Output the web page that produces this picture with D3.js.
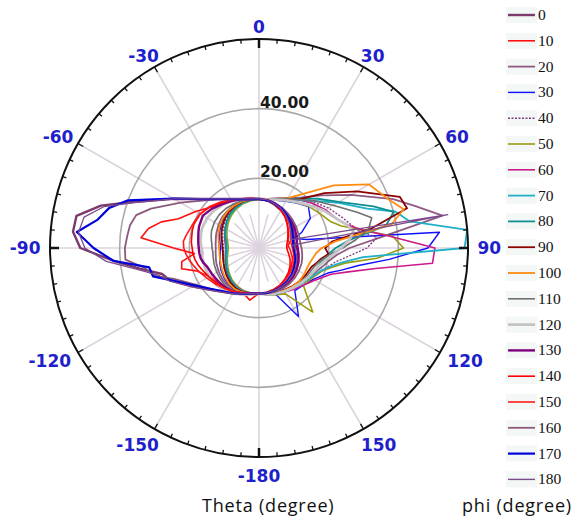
<!DOCTYPE html>
<html>
<head>
<meta charset="utf-8">
<script src="https://cdn.jsdelivr.net/npm/d3@7"></script>
<style>
  body { margin: 0; background: #fff; }
  svg { display: block; }
</style>
</head>
<body>
<svg id="chart" width="573" height="519"></svg>
<script>
// theta (degree) grid shared by all phi cuts
const theta = [-180,-170,-160,-150,-140,-130,-120,-110,-105,-100,-95,-90,-85,-80,-75,-70,-60,-50,-40,-30,-20,-10,0,
  10,20,30,40,50,60,70,75,80,85,90,95,100,105,110,120,130,140,150,160,170,180]

// one radius list per phi cut
const phi0 = [13.1,13.4,14.1,15.1,16.4,18.6,22.0,27.2,28.8,34.5,42.0,51.3,53.6,53.2,47.0,38.6,28.3,21.9,18.4,16.3,15.0,14.3,14.1,
  13.9,13.2,12.6,12.3,11.8,11.2,10.6,10.4,10.2,10.5,10.8,11.2,11.5,11.7,12.0,12.4,12.8,13.0,13.2,13.3,13.2,13.1]
const phi10 = [13.0,15.2,13.6,14.2,14.8,15.4,16.3,19.2,23.0,22.5,18.6,24.5,34.0,32.2,29.0,24.6,21.0,18.2,16.6,15.5,14.8,14.2,14.0,
  13.8,13.3,12.5,11.7,10.6,9.8,9.1,8.6,8.9,8.4,8.7,9.1,9.4,9.9,10.2,10.7,11.2,11.7,12.3,12.7,13.1,13.0]
const phi20 = [13.1,13.3,13.6,13.9,14.0,13.8,13.4,13.0,12.8,12.6,12.5,12.4,12.5,12.6,12.8,13.0,13.4,13.8,14.0,14.2,14.3,14.2,14.1,
  14.3,15.2,16.6,19.0,23.5,30.5,41.0,46.5,53.5,35.0,26.0,22.5,20.5,19.3,18.2,16.8,15.8,15.0,14.4,13.9,13.5,13.2]
const phi30 = [13.2,13.4,13.7,13.8,13.6,13.2,12.6,12.0,11.6,11.3,11.1,11.0,11.2,11.4,11.7,12.1,12.7,13.3,13.8,14.1,14.3,14.2,14.0,
  14.0,14.6,15.5,16.8,18.5,17.0,13.0,10.5,14.0,52.0,48.5,37.5,29.0,24.5,21.0,18.0,16.6,16.0,22.7,14.2,13.6,13.2]
const phi40 = [13.0,13.2,13.3,13.1,12.6,12.0,11.4,10.9,10.6,10.4,10.2,10.2,10.3,10.5,10.8,11.1,11.8,12.5,13.2,13.7,14.0,14.1,14.0,
  14.2,15.0,16.2,18.0,20.5,23.0,25.5,27.0,29.0,34.0,31.0,26.0,22.5,20.5,19.0,17.2,16.0,15.2,14.6,14.0,13.5,13.0]
const phi50 = [13.0,13.1,13.0,12.6,12.0,11.2,10.4,9.7,9.4,9.1,8.9,8.8,8.9,9.1,9.4,9.8,10.6,11.5,12.3,13.0,13.5,13.8,13.9,
  14.1,14.8,15.8,17.0,18.6,20.0,22.0,24.5,30.0,38.5,41.5,34.0,25.0,21.5,19.3,17.4,16.6,24.0,15.2,14.3,13.6,13.1]
const phi60 = [13.0,13.2,13.2,12.9,12.3,11.6,10.9,10.3,10.0,9.8,9.6,9.6,9.7,9.9,10.2,10.5,11.2,12.0,12.8,13.4,13.8,14.0,14.0,
  14.2,15.0,16.2,18.0,20.0,22.0,24.0,26.0,30.0,38.0,50.5,50.0,34.0,26.5,22.0,18.5,16.6,15.5,14.6,14.0,13.5,13.0]
const phi70 = [13.0,13.2,13.3,13.0,12.3,11.5,10.7,10.0,9.7,9.4,9.2,9.2,9.3,9.5,9.8,10.2,11.0,11.9,12.7,13.3,13.7,14.0,14.1,
  14.2,14.9,16.2,18.0,21.0,26.0,33.0,40.5,44.0,60.0,59.0,30.0,24.0,21.0,19.0,17.0,16.0,15.0,14.5,14.0,13.5,13.0]
const phi80 = [13.0,13.2,13.4,13.2,12.5,11.7,10.9,10.2,9.9,9.7,9.5,9.5,9.5,9.7,10.0,10.4,11.2,12.1,12.9,13.5,13.9,14.1,14.2,
  14.2,15.0,16.3,18.5,22.0,26.5,35.0,40.0,37.0,26.0,22.0,20.0,19.0,18.0,17.5,16.5,15.5,15.0,14.5,14.0,13.5,13.0]
const phi90 = [13.0,13.3,13.5,13.4,12.9,12.2,11.5,10.9,10.7,10.5,10.4,10.5,10.6,10.8,11.1,11.5,12.2,12.9,13.5,13.9,14.1,14.2,14.2,
  14.2,14.9,16.0,18.3,24.5,32.5,43.0,44.0,33.0,21.0,19.0,20.0,18.0,17.0,16.0,15.5,15.0,14.5,14.0,13.5,13.2,13.0]
const phi100 = [13.0,13.3,13.6,13.7,13.4,12.9,12.3,11.8,11.6,11.5,11.4,11.5,11.6,11.8,12.1,12.4,13.0,13.5,13.9,14.1,14.2,14.2,14.1,
  14.2,15.0,16.5,20.5,28.0,36.5,40.0,43.0,38.5,22.0,18.0,16.5,15.8,15.3,15.0,15.0,15.0,14.6,14.2,13.8,13.4,13.0]
const phi110 = [13.1,13.4,13.9,14.3,14.5,14.3,14.0,13.7,13.5,13.4,13.3,13.5,13.6,13.9,14.2,14.5,14.8,14.9,14.8,14.6,14.4,14.3,14.1,
  14.2,15.0,16.3,18.2,21.0,24.5,30.0,33.5,32.0,28.0,24.0,20.5,18.5,17.3,16.6,16.0,15.5,15.0,14.5,14.0,13.5,13.1]
const phi120 = [13.1,13.5,14.2,15.0,15.8,16.2,16.4,16.5,16.4,16.6,16.3,16.5,16.8,17.0,17.2,17.3,17.2,16.8,16.2,15.6,15.0,14.5,14.2,
  14.2,14.8,15.8,17.2,19.0,21.5,24.0,26.0,27.5,26.0,23.5,21.5,19.5,18.3,17.5,16.5,15.7,15.0,14.4,13.9,13.5,13.1]
const phi130 = [13.0,13.3,13.9,14.5,14.9,15.1,15.4,15.8,16.5,17.0,17.2,17.3,17.5,17.7,18.0,18.3,18.6,17.6,16.4,15.6,14.9,14.4,14.1,
  13.9,13.6,13.2,12.8,12.3,11.8,11.3,11.2,11.0,11.0,11.1,11.3,11.5,11.7,12.0,12.4,12.7,12.9,13.1,13.2,13.1,13.0]
const phi140 = [13.0,13.3,13.8,14.5,15.2,15.8,16.6,17.6,18.2,18.7,19.0,19.2,19.5,19.6,19.8,19.9,19.5,18.4,17.0,15.9,15.0,14.4,14.0,
  13.8,13.4,12.6,11.6,10.6,9.6,8.8,8.5,8.2,8.0,8.0,8.2,8.6,9.0,9.5,10.3,11.0,11.6,12.2,12.6,12.9,13.0]
const phi150 = [13.0,13.2,13.7,14.4,15.2,16.2,17.3,18.7,19.5,20.3,21.0,21.6,21.8,21.2,20.6,20.2,19.6,18.5,17.2,16.0,15.0,14.4,14.0,
  14.1,13.6,12.9,12.1,11.2,10.4,9.8,9.5,9.3,9.4,9.6,9.8,10.1,10.4,10.7,11.1,11.5,11.9,12.3,12.7,13.0,13.0]
const phi160 = [13.1,13.4,14.0,15.0,16.3,18.3,21.0,26.0,31.0,33.2,38.5,38.5,38.0,37.6,36.5,33.0,26.0,21.2,18.2,16.2,14.9,14.2,14.0,
  13.8,13.5,13.2,12.9,12.6,12.3,12.0,12.0,11.9,12.0,12.2,12.4,12.6,12.8,13.0,13.2,13.4,13.5,13.5,13.4,13.2,13.1]
const phi170 = [13.0,13.3,14.0,15.0,16.2,18.2,21.5,27.0,31.5,32.0,42.0,47.5,52.5,47.0,44.5,40.0,28.3,21.8,18.3,16.2,14.9,14.2,14.0,
  13.9,13.5,13.0,12.4,11.6,10.9,10.3,10.1,9.9,9.9,10.0,10.2,10.5,10.8,11.1,11.6,12.1,12.5,12.8,13.0,13.1,13.0]
const phi180 = [13.0,13.3,14.0,15.1,16.5,18.8,22.3,27.5,30.0,35.5,44.0,50.0,52.0,51.0,46.0,38.2,28.2,21.9,18.4,16.3,15.0,14.3,14.1,
  14.0,13.5,12.9,12.1,11.3,10.5,9.8,9.4,55.0,10.0,10.3,10.6,10.9,11.2,11.5,12.0,12.4,12.7,12.9,13.0,13.0,13.0]

const phiLabels = ['0','10','20','30','40','50','60','70','80','90','100','110','120','130','140','150','160','170','180']
const angleTicks = [0, 30, 60, 90, 120, 150, -180, -150, -120, -90, -60, -30]
const ringValues = [20, 40]
const ringLabels = ['20.00', '40.00']

const radii = [phi0, phi10, phi20, phi30, phi40, phi50, phi60, phi70, phi80, phi90,
  phi100, phi110, phi120, phi130, phi140, phi150, phi160, phi170, phi180]

// look of each cut
const colors = ['#7b3a6b','#ff1010','#8e5a82','#1010ff','#7b3a7b','#9a9a10','#cc1a8a','#20b0c8','#109090','#8b0000',
  '#ff8c10','#707070','#c4c4c4','#800080','#ff0000','#ff1a1a','#8b5a7a','#0000dd','#7b4a8b']
const widths = [2.4,1.6,1.8,1.4,1.3,1.6,1.6,1.8,1.8,1.8,1.8,1.6,2.8,2.4,1.6,1.6,1.8,2.2,1.3]

const cx = 259, cy = 248, R = 209

const svg = d3.select('#chart')
const g = svg.append('g').attr('transform', `translate(${cx},${cy})`)

const r = d3.scaleLinear().domain([0, 60]).range([0, R])
const rad = d => d * Math.PI / 180

// spokes
const spokes = d3.range(-180, 180, 15)
g.selectAll('.spoke').data(spokes).enter().append('line')
  .attr('x1', 0).attr('y1', 0)
  .attr('x2', d => Math.sin(rad(d)) * (d % 30 === 0 ? R : r(10)))
  .attr('y2', d => -Math.cos(rad(d)) * (d % 30 === 0 ? R : r(10)))
  .attr('stroke', '#ddd3df').attr('stroke-width', 1.6)

// rings
g.selectAll('.ring').data(ringValues).enter().append('circle')
  .attr('r', d => r(d)).attr('fill', 'none')
  .attr('stroke', '#a9a9a9').attr('stroke-width', 1.6)

// the cuts
const line = d3.lineRadial()
  .angle(d => rad(d[0]))
  .radius(d => r(d[1]))

radii.forEach((rs, i) => {
  const pts = theta.map((t, k) => [t, rs[k]])
  g.append('path')
    .attr('d', line(pts))
    .attr('fill', 'none')
    .attr('stroke', colors[i])
    .attr('stroke-width', widths[i])
    .attr('stroke-linejoin', 'round')
    .attr('stroke-dasharray', i === 4 ? '2,1.5' : null)
})

// outer circle + ticks
g.append('circle').attr('r', R).attr('fill', 'none').attr('stroke', '#111').attr('stroke-width', 2)
const tickLen = d => d % 90 === 0 ? 9 : d % 30 === 0 ? 6 : 4
const ticks = d3.range(-180, 180, 5)
g.selectAll('.tick').data(ticks).enter().append('line')
  .attr('x1', d => Math.sin(rad(d)) * R)
  .attr('y1', d => -Math.cos(rad(d)) * R)
  .attr('x2', d => Math.sin(rad(d)) * (R - tickLen(d)))
  .attr('y2', d => -Math.cos(rad(d)) * (R - tickLen(d)))
  .attr('stroke', '#111')
  .attr('stroke-width', d => d % 90 === 0 ? 2.5 : 1.3)

// angle labels, pushed out by half their box
g.selectAll('.alab').data(angleTicks).enter().append('text')
  .attr('text-anchor', 'middle')
  .attr('dominant-baseline', 'central')
  .attr('font-family', 'DejaVu Sans')
  .attr('font-weight', 'bold')
  .attr('font-size', 17)
  .attr('fill', '#1f1fcc')
  .text(d => d)
  .each(function (d) {
    const w = this.getComputedTextLength() / 2
    const s = Math.sin(rad(d)), c = Math.cos(rad(d))
    const rr = 218.5 - 3.5 * c
    d3.select(this)
      .attr('x', s * rr + s * w * Math.abs(s) / Math.abs(s || 1) * (s ? 1 : 0))
      .attr('y', -c * rr - c * 6 * Math.abs(c) / Math.abs(c || 1))
  })

// ring labels
g.selectAll('.rlab').data(ringValues).enter().append('text')
  .attr('x', 1)
  .attr('y', d => -r(d) - 1)
  .attr('font-family', 'DejaVu Sans')
  .attr('font-weight', 'bold')
  .attr('font-size', 15.5)
  .attr('fill', '#1a1a1a')
  .text((d, i) => ringLabels[i])

// legend
const leg = svg.append('g')
const rowY = i => 15 + i * 25.8
phiLabels.forEach((lab, i) => {
  leg.append('rect')
    .attr('x', 506).attr('y', rowY(i) - 8).attr('width', 31).attr('height', 16)
    .attr('fill', '#f3f7f5')
  leg.append('line')
    .attr('x1', 508).attr('x2', 535)
    .attr('y1', rowY(i)).attr('y2', rowY(i))
    .attr('stroke', colors[i]).attr('stroke-width', Math.max(1.4, widths[i]))
    .attr('stroke-dasharray', i === 4 ? '2,1.5' : null)
  leg.append('text')
    .attr('x', 538).attr('y', rowY(i) + 5)
    .attr('font-family', "'Liberation Serif', 'DejaVu Serif', serif")
    .attr('font-size', 15.5)
    .attr('fill', '#111')
    .text(lab)
})

// axis titles
svg.append('text').attr('x', 202).attr('y', 512)
  .attr('font-family', "'Open Sans'").attr('font-size', 18).attr('letter-spacing', 0.8).attr('fill', '#111')
  .text('Theta (degree)')
svg.append('text').attr('x', 462).attr('y', 512)
  .attr('font-family', "'Open Sans'").attr('font-size', 18).attr('letter-spacing', 0.8).attr('fill', '#111')
  .text('phi (degree)')
</script>
</body>
</html>
